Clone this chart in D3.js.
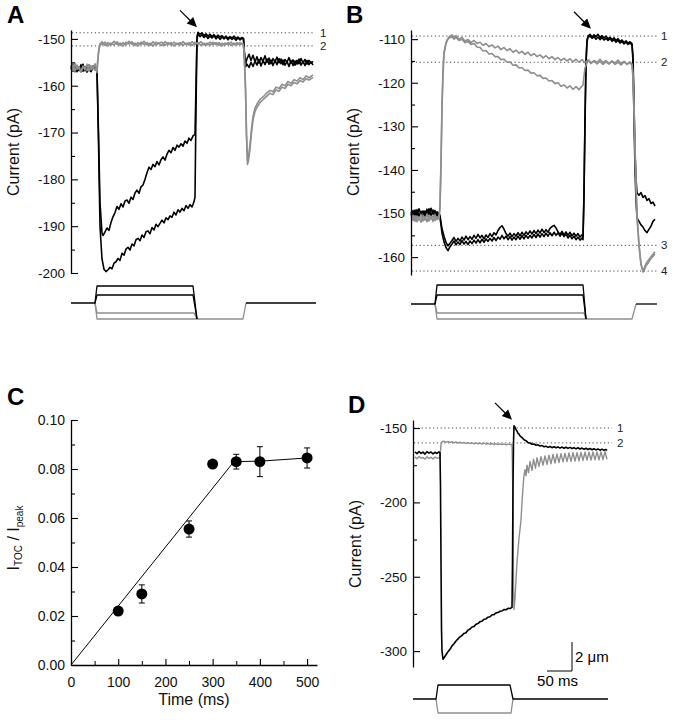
<!DOCTYPE html>
<html>
<head>
<meta charset="utf-8">
<script src="https://cdn.jsdelivr.net/npm/d3@7"></script>
<style>
  body { margin: 0; background: #fff; }
  svg { display: block; font-family: "Liberation Sans", Arial, Helvetica, sans-serif; }
</style>
</head>
<body>
<div id="fig"></div>
<script>
// ---------- Panel A : current traces [time ms, pA] ----------
var aBlack1 = [[0,-156.5],[4,-155.4],[8,-157.0],[12,-155.9],[16,-156.8],[20,-155.5],[24,-156.9],[28,-156.0],[32,-157.1],[36,-155.6],[40,-156.7],[44,-155.8],[48,-156.4],[52,-156.9],
  [55,-170],[58,-185],[62,-191.5],
  [64,-192.0],[68,-191.2],[72,-190.4],[76,-190.9],[80,-189.2],[84,-188.0],[88,-187.1],[92,-185.8],[96,-186.4],[100,-185.2],[104,-185.9],[108,-184.6],[112,-184.4],[116,-185.1],[120,-183.8],[124,-184.3],[128,-182.9],[132,-182.3],[136,-183.0],[140,-181.6],[144,-181.2],[148,-180.0],[152,-178.6],[156,-177.4],[160,-177.9],[164,-176.8],[168,-177.3],[172,-176.2],[176,-176.9],[180,-175.8],[184,-175.2],[188,-175.9],[192,-174.6],[196,-173.8],[200,-174.3],[204,-173.2],[208,-173.8],[212,-172.7],[216,-173.1],[220,-172.4],[224,-172.9],[228,-171.8],[232,-172.3],[236,-171.2],[240,-171.7],[244,-170.7],[248,-170.4],
  [250,-160],[252,-149.5],[254,-148.6],
  [258,-149.0],[262,-148.7],[266,-149.3],[270,-148.9],[274,-149.4],[278,-149.0],[282,-149.5],[286,-149.1],[290,-149.6],[294,-149.2],[298,-149.6],[302,-149.3],[306,-149.8],[310,-149.4],[314,-149.9],[318,-149.5],[322,-149.8],[326,-149.4],[330,-149.9],[334,-149.6],[338,-150.0],[342,-149.7],[345,-149.9],
  [347,-153],[349,-155.5],
  [352,-154.2],[356,-153.3],[360,-154.6],[364,-153.5],[368,-154.9],[372,-153.8],[376,-155.2],[380,-154.0],[384,-154.8],[388,-153.6],[392,-155.0],[396,-154.1],[400,-155.3],[404,-154.2],[408,-154.9],[412,-153.9],[416,-155.1],[420,-154.3],[424,-155.5],[428,-154.4],[432,-155.0],[436,-154.0],[440,-155.2],[444,-154.5],[448,-155.6],[452,-154.6],[456,-155.3],[460,-154.2],[464,-155.1],[468,-154.4],[472,-155.4],[476,-154.6],[480,-155.2],[484,-154.8]];

var aBlack2 = [[0,-155.8],[4,-156.9],[8,-155.6],[12,-157.0],[16,-156.0],[20,-156.6],[24,-155.4],[28,-156.8],[32,-155.9],[36,-156.5],[40,-157.0],[44,-156.1],[48,-155.7],[52,-156.6],
  [55,-172],[58,-190],[62,-197],
  [66,-199.2],[70,-199.7],[74,-199.3],[78,-198.8],[82,-199.1],[86,-197.9],[90,-197.6],[94,-196.9],[98,-197.3],[102,-195.8],[106,-196.2],[110,-194.9],[114,-194.5],[118,-195.1],[122,-193.8],[126,-194.2],[130,-192.9],[134,-192.6],[138,-193.1],[142,-191.9],[146,-192.4],[150,-191.2],[154,-191.0],[158,-191.6],[162,-190.3],[166,-190.8],[170,-189.6],[174,-190.1],[178,-189.4],[182,-188.7],[186,-189.3],[190,-188.2],[194,-188.6],[198,-187.8],[202,-188.1],[206,-187.0],[210,-187.6],[214,-186.5],[218,-187.0],[222,-186.2],[226,-186.7],[230,-185.6],[234,-186.2],[238,-185.4],[242,-185.9],[246,-184.8],[248,-183.8],
  [250,-165],[252,-150],[254,-149.0],
  [258,-149.5],[262,-149.1],[266,-149.7],[270,-149.3],[274,-149.9],[278,-149.4],[282,-149.8],[286,-149.3],[290,-150.0],[294,-149.5],[298,-150.1],[302,-149.6],[306,-150.0],[310,-149.6],[314,-150.2],[318,-149.7],[322,-150.1],[326,-149.8],[330,-150.3],[334,-149.8],[338,-150.2],[342,-149.9],[345,-150.1],
  [347,-154],[349,-156],
  [352,-155.4],[356,-156.1],[360,-155.0],[364,-155.9],[368,-154.7],[372,-155.6],[376,-154.4],[380,-155.8],[384,-154.6],[388,-155.5],[392,-154.3],[396,-155.4],[400,-154.5],[404,-155.7],[408,-154.6],[412,-155.5],[416,-154.2],[420,-155.3],[424,-154.5],[428,-155.6],[432,-154.8],[436,-155.9],[440,-154.6],[444,-155.7],[448,-154.7],[452,-155.4],[456,-154.3],[460,-155.6],[464,-154.8],[468,-155.7],[472,-154.6],[476,-155.5],[480,-154.9],[484,-155.6]];

var aGray1 = [[0,-155.6],[4,-156.8],[8,-155.2],[12,-156.5],[16,-155.9],[20,-157.0],[24,-155.8],[28,-156.6],[32,-155.4],[36,-156.9],[40,-155.7],[44,-156.4],[48,-155.3],[52,-157.2],
  [55,-153],[58,-151.2],
  [62,-150.6],[68,-151.4],[74,-150.8],[80,-151.3],[86,-150.5],[92,-151.2],[98,-150.9],[104,-151.5],[110,-150.7],[116,-151.1],[122,-150.6],[128,-151.4],[134,-150.8],[140,-151.2],[146,-150.5],[152,-151.3],[158,-150.9],[164,-151.5],[170,-150.7],[176,-151.0],[182,-151.4],[188,-150.6],[194,-151.2],[200,-150.8],[206,-151.5],[212,-150.9],[218,-151.3],[224,-150.6],[230,-151.2],[236,-150.8],[242,-151.4],[248,-150.7],[254,-151.1],[260,-150.6],[266,-151.3],[272,-150.9],[278,-151.4],[284,-150.7],[290,-151.2],[296,-150.8],[302,-151.5],[308,-150.9],[314,-151.2],[320,-150.7],[326,-151.3],[332,-150.8],[338,-151.2],[344,-151.0],
  [346,-152],[349,-160],[351,-170],[353,-176.8],[355,-176],[358,-173.5],[361,-170],[364,-167.3],[368,-165.5],[372,-164.6],[378,-163.6],[384,-163],[390,-162.4],[398,-161.6],[404,-161.9],[410,-160.9],[416,-161.2],[422,-160.3],[428,-160.6],[434,-159.7],[440,-160.0],[446,-159.3],[452,-159.6],[458,-158.9],[464,-159.2],[470,-158.5],[476,-158.8],[484,-158.2]];

var aGray2 = [[0,-156.3],[4,-155.5],[8,-156.9],[12,-155.6],[16,-156.4],[20,-157.1],[24,-155.9],[28,-156.2],[32,-156.8],[36,-155.5],[40,-156.6],[44,-155.9],[48,-156.7],[52,-156.1],
  [55,-152.8],[58,-151.0],
  [62,-151.2],[68,-150.7],[74,-151.5],[80,-150.9],[86,-151.3],[92,-150.6],[98,-151.4],[104,-150.8],[110,-151.3],[116,-150.5],[122,-151.2],[128,-150.9],[134,-151.5],[140,-150.7],[146,-151.2],[152,-150.8],[158,-151.4],[164,-150.6],[170,-151.3],[176,-150.9],[182,-150.7],[188,-151.4],[194,-150.8],[200,-151.3],[206,-150.7],[212,-151.2],[218,-150.8],[224,-151.4],[230,-150.9],[236,-151.3],[242,-150.6],[248,-151.2],[254,-150.8],[260,-151.4],[266,-150.9],[272,-151.3],[278,-150.7],[284,-151.2],[290,-150.8],[296,-151.4],[302,-150.9],[308,-151.3],[314,-150.8],[320,-151.4],[326,-150.9],[332,-151.3],[338,-150.8],[344,-151.2],
  [346,-152.5],[349,-161],[351,-171],[353,-176.0],[355,-175.2],[358,-172.6],[361,-169.2],[364,-166.6],[368,-164.8],[372,-163.9],[378,-162.9],[384,-162.4],[390,-161.7],[398,-161.0],[404,-161.3],[410,-160.3],[416,-160.6],[422,-159.7],[428,-160.0],[434,-159.1],[440,-159.5],[446,-158.7],[452,-159.0],[458,-158.3],[464,-158.7],[470,-157.9],[476,-158.3],[484,-157.7]];

var aLevels = [-148.7, -151.5];
var aLevelLabels = ["1", "2"];
var aTicks = [-200, -190, -180, -170, -160, -150];
var aMinor = [-195, -185, -175, -165, -155];

// stimulus protocol A [time ms, step level]
var stimABlack1 = [[0,0],[48,0],[52,17],[244,17],[252,-16]];
var stimABlack2 = [[48,0],[52,8],[244,8],[252,-16]];
var stimAGray1 = [[48,0],[52,-10],[246,-10],[252,-16]];
var stimAGray2 = [[48,0],[52,-16],[344,-16],[350,0]];
var stimATail = [[350,0],[490,0]];

// ---------- Panel B ----------
var bBlack1 = [[0,-149.6],[4,-150.8],[8,-149.2],[12,-150.5],[16,-148.9],[20,-150.2],[24,-149.4],[28,-150.9],[32,-149.0],[36,-150.3],[40,-148.8],[44,-150.1],[48,-149.3],[52,-150.6],[56,-149.8],
  [58,-150.5],[60,-152],[62,-153.5],[66,-155.2],[70,-156.6],[74,-157.4],[78,-156.8],
  [82,-156.2],[86,-155.5],[90,-156.4],[94,-155.7],[98,-156.3],[102,-155.4],[106,-156.1],[110,-155.2],[114,-156.0],[118,-155.3],[122,-155.9],[126,-155.0],[130,-155.7],[134,-154.8],[138,-155.6],[142,-155.0],[146,-155.8],[150,-154.9],[154,-155.5],[158,-154.6],[162,-155.3],[166,-154.4],[170,-154.9],[174,-153.9],[178,-153.2],[182,-152.8],[186,-153.6],[190,-154.6],[194,-155.2],[198,-154.5],[202,-155.3],[206,-154.6],[210,-155.2],[214,-154.4],[218,-155.1],[222,-154.3],[226,-155.0],[230,-154.2],[234,-154.8],[238,-154.0],[242,-154.7],[246,-153.9],[250,-154.6],[254,-153.8],[258,-154.5],[262,-153.6],[266,-154.4],[270,-153.7],[274,-154.3],[278,-153.4],[282,-153.0],[286,-152.7],[290,-153.3],[294,-154.2],[298,-154.8],[302,-154.1],[306,-154.9],[310,-154.2],[314,-155.0],[318,-154.3],[322,-155.1],[326,-154.5],[330,-155.2],[334,-154.6],[338,-155.4],[342,-154.9],[344,-155.3],
  [346,-145],[348,-128],[350,-115],[352,-110.2],[354,-109.3],
  [358,-108.9],[362,-109.5],[366,-109.0],[370,-109.4],[374,-108.9],[378,-109.6],[382,-109.2],[386,-109.7],[390,-109.3],[394,-109.9],[398,-109.6],[402,-110.1],[406,-109.7],[410,-110.3],[414,-109.9],[418,-110.5],[422,-110.2],[426,-110.8],[430,-110.4],[434,-110.9],[438,-110.6],[442,-111.0],
  [444,-114],[446,-125],[448,-136],[450,-142],[452,-145.3],[456,-145.8],[460,-145.2],[464,-146.3],[468,-145.9],[472,-147.0],[476,-146.6],[480,-147.7],[484,-147.4],[488,-148.3]];

var bBlack2 = [[0,-150.4],[4,-149.3],[8,-150.7],[12,-149.1],[16,-150.6],[20,-149.5],[24,-150.9],[28,-149.4],[32,-150.3],[36,-148.9],[40,-150.5],[44,-149.2],[48,-150.8],[52,-149.6],[56,-150.2],
  [58,-151],[60,-152.6],[62,-154.5],[66,-156.5],[70,-157.8],[74,-158.5],[78,-157.6],
  [82,-157.0],[86,-156.3],[90,-157.2],[94,-156.5],[98,-157.1],[102,-156.2],[106,-157.0],[110,-156.4],[114,-157.1],[118,-156.3],[122,-156.9],[126,-156.1],[130,-156.8],[134,-156.0],[138,-156.7],[142,-155.9],[146,-156.6],[150,-155.8],[154,-156.4],[158,-155.7],[162,-156.3],[166,-155.5],[170,-156.2],[174,-155.4],[178,-155.9],[182,-155.0],[186,-155.8],[190,-155.2],[194,-156.0],[198,-155.3],[202,-156.1],[206,-155.4],[210,-156.0],[214,-155.2],[218,-155.9],[222,-155.1],[226,-155.8],[230,-155.0],[234,-155.7],[238,-155.0],[242,-155.6],[246,-154.8],[250,-155.5],[254,-154.7],[258,-155.4],[262,-154.6],[266,-155.3],[270,-154.5],[274,-155.2],[278,-154.4],[282,-155.1],[286,-154.3],[290,-155.0],[294,-154.4],[298,-155.2],[302,-154.5],[306,-155.3],[310,-154.7],[314,-155.6],[318,-155.0],[322,-155.8],[326,-155.2],[330,-156.0],[334,-155.4],[338,-156.1],[342,-155.6],[344,-156.0],
  [346,-146],[348,-129],[350,-116],[352,-110.6],[354,-109.6],
  [358,-109.3],[362,-109.8],[366,-109.4],[370,-110.0],[374,-109.5],[378,-110.1],[382,-109.6],[386,-110.2],[390,-109.8],[394,-110.3],[398,-109.9],[402,-110.5],[406,-110.1],[410,-110.7],[414,-110.3],[418,-110.9],[422,-110.5],[426,-111.1],[430,-110.7],[434,-111.2],[438,-110.9],[442,-111.3],
  [444,-115],[446,-128],[448,-140],[450,-147],[452,-151.0],[456,-151.8],[460,-152.6],[464,-153.1],[468,-153.9],[472,-154.4],[476,-153.6],[480,-152.9],[484,-151.8],[488,-151.3]];

var bGray1 = [[0,-150.2],[4,-151.6],[8,-150.5],[12,-151.9],[16,-150.8],[20,-152.0],[24,-150.4],[28,-151.5],[32,-150.1],[36,-151.7],[40,-150.6],[44,-151.8],[48,-150.3],[52,-151.4],[56,-150.9],
  [58,-148],[60,-138],[62,-125],[64,-117],[66,-113],[70,-110.8],[74,-109.8],[78,-109.3],
  [82,-109.0],[86,-109.7],[90,-109.2],[96,-110.0],[102,-109.6],[108,-110.4],[114,-110.1],[120,-110.8],[126,-110.3],[132,-111.0],[138,-110.7],[144,-111.4],[150,-111.0],[156,-111.7],[162,-111.3],[168,-112.0],[174,-111.6],[180,-112.4],[186,-111.9],[192,-112.6],[198,-112.2],[204,-113.0],[210,-112.5],[216,-113.2],[222,-112.8],[228,-113.5],[234,-113.0],[240,-113.8],[246,-113.3],[252,-114.0],[258,-113.6],[264,-114.3],[270,-113.8],[276,-114.5],[282,-114.0],[288,-114.7],[294,-114.2],[300,-114.9],[306,-114.4],[312,-115.0],[318,-114.5],[324,-115.2],[330,-114.6],[336,-115.3],[342,-114.7],[348,-115.4],[354,-114.8],[360,-115.5],[366,-114.9],[372,-115.3],[378,-114.6],[384,-115.4],[390,-114.9],[396,-115.6],[402,-115.0],[408,-115.5],[414,-114.8],[420,-115.6],[426,-115.1],[432,-115.8],[438,-115.2],[442,-115.7],
  [444,-118],[446,-125],[448,-134],[450,-143],[452,-150],[456,-157],[460,-161.5],[464,-163.4],[467,-162.9],[470,-162.0],[474,-161.4],[478,-160.6],[482,-160.1],[488,-159.3]];

var bGray2 = [[0,-151.0],[4,-150.3],[8,-151.8],[12,-150.6],[16,-151.5],[20,-150.2],[24,-151.7],[28,-150.7],[32,-151.9],[36,-150.4],[40,-151.3],[44,-150.5],[48,-151.6],[52,-150.8],[56,-151.2],
  [58,-148.5],[60,-139],[62,-126],[64,-118],[66,-113.5],[70,-111],[74,-110],[78,-109.6],
  [82,-109.4],[86,-110.0],[90,-109.6],[96,-110.3],[102,-110.0],[108,-110.8],[114,-110.5],[120,-111.2],[126,-111.0],[132,-111.8],[138,-111.9],[144,-112.7],[150,-112.6],[156,-113.4],[162,-113.3],[168,-114.0],[174,-114.0],[180,-114.7],[186,-114.6],[192,-115.3],[198,-115.2],[204,-116.0],[210,-115.9],[216,-116.6],[222,-116.5],[228,-117.2],[234,-117.1],[240,-117.8],[246,-117.7],[252,-118.4],[258,-118.3],[264,-119.0],[270,-118.9],[276,-119.6],[282,-119.5],[288,-120.2],[294,-120.0],[300,-120.8],[306,-120.5],[312,-121.2],[318,-120.7],[324,-121.5],[330,-120.9],[336,-121.6],[340,-121.0],[344,-120.5],[346,-118.5],[348,-116.6],[352,-115.4],[356,-114.8],[360,-115.6],[366,-115.0],[372,-115.7],[378,-115.1],[384,-115.8],[390,-115.2],[396,-115.7],[402,-115.1],[408,-115.8],[414,-115.3],[420,-115.9],[426,-115.2],[432,-115.7],[438,-115.4],[442,-116.0],
  [444,-119],[446,-127],[448,-136],[450,-144],[452,-151],[456,-157.5],[460,-161.8],[464,-163.0],[467,-162.4],[470,-161.5],[474,-160.8],[478,-160.2],[482,-159.6],[488,-158.8]];

var bLevels = [-109.3, -115.3, -157.3, -163.2];
var bLevelLabels = ["1", "2", "3", "4"];
var bTicks = [-160, -150, -140, -130, -120, -110];
var bMinor = [-155, -145, -135, -125, -115];

var stimBBlack1 = [[0,0],[48,0],[52,19],[344,19],[350,-15]];
var stimBBlack2 = [[48,0],[52,9],[344,9],[350,-15]];
var stimBGray1 = [[48,0],[52,-9],[346,-9],[350,-15]];
var stimBGray2 = [[48,0],[52,-15],[442,-15],[450,0]];
var stimBTail = [[450,0],[492,0]];

// ---------- Panel C : I_TOC / I_peak vs time ----------
var cTime = [100, 150, 250, 300, 350, 400, 500];
var cRatio = [0.022, 0.029, 0.0555, 0.082, 0.083, 0.083, 0.0845];
var cErr = [0.0015, 0.0037, 0.0033, 0.0012, 0.003, 0.0061, 0.0041];
var fitTime = [0, 345, 400, 500];
var fitRatio = [0, 0.083, 0.0832, 0.0845];
var cXTicks = [0, 100, 200, 300, 400, 500];
var cXMinor = [50, 150, 250, 350, 450];
var cYTicks = [0, 0.02, 0.04, 0.06, 0.08, 0.10];
var cYMinor = [0.01, 0.03, 0.05, 0.07, 0.09];

// ---------- Panel D ----------
var dBlack = [[4,-166.0],[8,-167.3],[12,-165.8],[16,-167.0],[20,-166.2],[24,-167.5],[28,-165.9],[32,-166.9],[36,-166.1],[40,-167.4],[44,-166.3],[48,-167.1],[52,-166.0],[54,-166.8],
  [55,-190],[56,-240],[57,-285],[58,-300],[60,-305.5],[62,-304.5],
  [66,-302.5],[70,-300.4],[74,-298.8],[78,-296.5],[82,-295.1],[86,-293.2],[90,-291.8],[94,-290.4],[98,-289.5],[102,-288.1],[106,-287.6],[110,-285.9],[114,-285.2],[118,-283.8],[122,-283.4],[126,-282.0],[130,-281.5],[134,-280.2],[138,-279.9],[142,-278.6],[146,-278.4],[150,-277.2],[154,-276.9],[158,-275.6],[162,-275.5],[166,-274.3],[170,-274.1],[174,-273.2],[178,-273.0],[182,-272.1],[186,-272.2],[190,-271.3],[194,-271.4],[198,-270.6],
  [199,-240],[200,-190],[201,-160],[202,-148.5],
  [204,-149.5],[206,-151.2],[208,-152.0],[210,-153.6],[212,-154.1],[214,-155.3],[218,-156.4],[222,-157.9],[226,-158.5],[230,-159.8],[234,-160.1],[238,-160.9],[242,-160.7],[246,-161.6],[250,-161.3],[254,-162.1],[258,-161.8],[262,-162.6],[266,-162.2],[270,-163.0],[274,-162.4],[278,-163.2],[282,-162.6],[286,-163.3],[290,-162.7],[294,-163.5],[298,-162.8],[302,-163.6],[306,-162.9],[310,-163.7],[314,-163.0],[318,-163.8],[322,-163.2],[326,-164.0],[330,-163.3],[334,-164.1],[338,-163.5],[342,-164.3],[346,-163.6],[350,-164.4],[354,-163.8],[358,-164.6],[362,-163.9],[366,-164.7],[370,-164.1],[374,-164.9],[378,-164.2],[382,-165.0],[386,-164.4],[388,-165.1]];

var dGray = [[4,-169.4],[8,-170.6],[12,-169.1],[16,-170.3],[20,-169.8],[24,-170.9],[28,-169.3],[32,-170.5],[36,-169.6],[40,-170.8],[44,-169.5],[48,-170.4],[52,-169.9],[54,-170.2],
  [55,-166],[56,-161],[58,-159.2],
  [62,-158.8],[66,-159.6],[70,-159.0],[74,-159.8],[78,-159.2],[82,-160.0],[86,-159.3],[90,-160.1],[94,-159.5],[98,-160.2],[102,-159.6],[106,-160.4],[110,-159.8],[114,-160.5],[118,-159.9],[122,-160.6],[126,-160.0],[130,-160.7],[134,-160.1],[138,-160.8],[142,-160.2],[146,-160.9],[150,-160.3],[154,-161.0],[158,-160.4],[162,-161.1],[166,-160.5],[170,-161.2],[174,-160.6],[178,-161.2],[182,-160.7],[186,-161.3],[190,-160.8],[194,-161.2],[198,-160.9],
  [200,-200],[201,-255],[202,-272],[204,-265],[206,-252],[208,-240],[212,-224],[216,-212],[218,-200],[220,-190],[222,-182],[224,-178],[226,-182],[228,-175],[231,-180],[234,-172.5],[238,-178.5],[241,-171],[245,-177],[248,-170],[252,-175.8],[256,-169.3],[260,-175],[264,-168.8],[268,-174.5],[272,-168.2],[276,-174],[280,-167.8],[284,-173.5],[288,-167.5],[292,-173.2],[296,-167.2],[300,-172.8],[304,-167.0],[308,-172.6],[312,-166.8],[316,-172.4],[320,-166.6],[324,-172.2],[328,-166.5],[332,-172.0],[336,-166.4],[340,-171.8],[344,-166.3],[348,-171.6],[352,-166.2],[356,-171.5],[360,-166.1],[364,-171.4],[368,-166.0],[372,-171.3],[376,-166.0],[380,-171.2],[384,-165.9],[388,-171.0]];

var dLevels = [-150, -160];
var dLevelLabels = ["1", "2"];
var dTicks = [-300, -250, -200, -150];
var dMinor = [-275, -225, -175];

var stimDBlack = [[0,0],[46,0],[50,14],[194,14],[200,0],[390,0]];
var stimDGray = [[46,0],[50,-14],[196,-14],[200,0]];

// ---------- drawing ----------
var svg = d3.select('#fig').append('svg')
  .attr('width', 678)
  .attr('height', 720);
svg.append('rect').attr('width', 678).attr('height', 720).attr('fill', '#fff');

var GRAY = '#8e8e8e';
var TW = 1.6; // trace width

function drawTrace(data, x, y, color, w) {
  svg.append('path')
    .datum(data)
    .attr('d', d3.line().x(d => x(d[0])).y(d => y(d[1])))
    .attr('fill', 'none')
    .attr('stroke', color)
    .attr('stroke-width', w)
    .attr('stroke-linejoin', 'round');
}

function styleAxis(g, size) {
  g.attr('font-family', null).attr('font-size', size);
  g.select('.domain').attr('stroke-width', 1.3);
  g.selectAll('.tick line').attr('stroke-width', 1.1);
  g.selectAll('.tick text').attr('fill', '#111');
}

function leftAxis(y, x0, major, minor, fmt, size) {
  var g = svg.append('g').attr('transform', `translate(${x0},0)`);
  g.call(d3.axisLeft(y).tickValues(major).tickSize(-7).tickSizeOuter(0).tickPadding(6).tickFormat(fmt));
  styleAxis(g, size);
  var m = svg.append('g').attr('transform', `translate(${x0},0)`);
  m.call(d3.axisLeft(y).tickValues(minor).tickSize(-4).tickSizeOuter(0).tickFormat(''));
  m.select('.domain').remove();
  m.selectAll('.tick line').attr('stroke-width', 1.1);
}

function dottedLevels(levels, labels, y, x1, x2, lx) {
  levels.forEach(function(v, i) {
    svg.append('line')
      .attr('x1', x1).attr('x2', x2)
      .attr('y1', y(v)).attr('y2', y(v))
      .attr('stroke', '#444')
      .attr('stroke-width', 1)
      .attr('stroke-dasharray', '1.2,2.6');
    svg.append('text')
      .attr('x', lx).attr('y', y(v) + 4)
      .attr('font-size', 11.5)
      .attr('fill', '#222')
      .text(labels[i]);
  });
}

function yTitle(x, y, txt) {
  svg.append('text')
    .attr('transform', `translate(${x},${y}) rotate(-90)`)
    .attr('text-anchor', 'middle')
    .attr('font-size', 16)
    .attr('fill', '#111')
    .text(txt);
}

function panelLetter(x, y, txt) {
  svg.append('text')
    .attr('x', x).attr('y', y)
    .attr('font-size', 24)
    .attr('font-weight', 'bold')
    .text(txt);
}

function arrow(tx, ty) {
  var u = Math.SQRT1_2, L = 10, W = 4.6;
  var bx = tx - u * L, by = ty - u * L;
  svg.append('line')
    .attr('x1', tx - 17).attr('y1', ty - 17)
    .attr('x2', bx + 1).attr('y2', by + 1)
    .attr('stroke', '#000').attr('stroke-width', 1.2);
  svg.append('path')
    .attr('d', `M${tx},${ty}L${bx - u * W},${by + u * W}L${bx + u * W},${by - u * W}Z`)
    .attr('fill', '#000');
}

var fmtInt = d => String(d);

// Panel A
var xA = d3.scaleLinear().domain([0, 484]).range([71, 313]);
var yA = d3.scaleLinear().domain([-200, -148.1]).range([273, 30]);
var sA = d3.scaleLinear().domain([-20, 20]).range([323, 283]);

dottedLevels(aLevels, aLevelLabels, yA, 72, 314, 320);
drawTrace(aBlack2, xA, yA, '#000', TW);
drawTrace(aBlack1, xA, yA, '#000', TW);
drawTrace(aGray2, xA, yA, GRAY, TW);
drawTrace(aGray1, xA, yA, GRAY, TW);
leftAxis(yA, 71, aTicks, aMinor, fmtInt, 13.5);
yTitle(19, 152, 'Current (pA)');
panelLetter(7, 23, 'A');
arrow(xA(252), yA(-148.6) - 5);

drawTrace(stimAGray2, xA, sA, GRAY, 1.3);
drawTrace(stimAGray1, xA, sA, GRAY, 1.3);
drawTrace(stimABlack2, xA, sA, '#000', 1.3);
drawTrace(stimABlack1, xA, sA, '#000', 1.3);
drawTrace(stimATail, xA, sA, '#000', 1.3);

// Panel B
var xB = d3.scaleLinear().domain([0, 488]).range([411, 655]);
var yB = d3.scaleLinear().domain([-164.1, -107.9]).range([275, 30]);
var sB = d3.scaleLinear().domain([-20, 20]).range([324, 284]);

dottedLevels(bLevels, bLevelLabels, yB, 412, 657, 661);
drawTrace(bBlack2, xB, yB, '#000', TW);
drawTrace(bBlack1, xB, yB, '#000', TW);
drawTrace(bGray2, xB, yB, GRAY, TW);
drawTrace(bGray1, xB, yB, GRAY, TW);
leftAxis(yB, 411, bTicks, bMinor, fmtInt, 13.5);
yTitle(359, 152, 'Current (pA)');
panelLetter(346, 23, 'B');
arrow(xB(360), yB(-109) - 6);

drawTrace(stimBGray2, xB, sB, GRAY, 1.3);
drawTrace(stimBGray1, xB, sB, GRAY, 1.3);
drawTrace(stimBBlack2, xB, sB, '#000', 1.3);
drawTrace(stimBBlack1, xB, sB, '#000', 1.3);
drawTrace(stimBTail, xB, sB, '#000', 1.3);

// Panel C
var xC = d3.scaleLinear().domain([0, 521]).range([71, 317]);
var yC = d3.scaleLinear().domain([0, 0.1]).range([665, 420]);

var gx = svg.append('g').attr('transform', 'translate(0,665)');
gx.call(d3.axisBottom(xC).tickValues(cXTicks).tickSize(-6).tickSizeOuter(0).tickPadding(12));
styleAxis(gx, 14);
var gxm = svg.append('g').attr('transform', 'translate(0,665)');
gxm.call(d3.axisBottom(xC).tickValues(cXMinor).tickSize(-4).tickSizeOuter(0).tickFormat(''));
gxm.select('.domain').remove();
leftAxis(yC, 71, cYTicks, cYMinor, d3.format('.2f'), 14);

svg.append('path')
  .datum(fitTime.map((t, i) => [t, fitRatio[i]]))
  .attr('d', d3.line().x(d => xC(d[0])).y(d => yC(d[1])))
  .attr('fill', 'none')
  .attr('stroke', '#000')
  .attr('stroke-width', 1);

var pts = cTime.map((t, i) => ({t: t, v: cRatio[i], e: cErr[i]}));
var eb = svg.append('g').selectAll('g').data(pts).enter().append('g');
eb.append('line')
  .attr('x1', d => xC(d.t)).attr('x2', d => xC(d.t))
  .attr('y1', d => yC(d.v - d.e)).attr('y2', d => yC(d.v + d.e))
  .attr('stroke', '#000').attr('stroke-width', 1);
eb.append('line')
  .attr('x1', d => xC(d.t) - 3).attr('x2', d => xC(d.t) + 3)
  .attr('y1', d => yC(d.v + d.e)).attr('y2', d => yC(d.v + d.e))
  .attr('stroke', '#000').attr('stroke-width', 1);
eb.append('line')
  .attr('x1', d => xC(d.t) - 3).attr('x2', d => xC(d.t) + 3)
  .attr('y1', d => yC(d.v - d.e)).attr('y2', d => yC(d.v - d.e))
  .attr('stroke', '#000').attr('stroke-width', 1);
eb.append('circle')
  .attr('cx', d => xC(d.t)).attr('cy', d => yC(d.v))
  .attr('r', 5.5).attr('fill', '#000');

svg.append('text')
  .attr('x', 194).attr('y', 705)
  .attr('text-anchor', 'middle')
  .attr('font-size', 16)
  .attr('fill', '#111')
  .text('Time (ms)');

var yl = svg.append('text')
  .attr('transform', 'translate(19,538) rotate(-90)')
  .attr('text-anchor', 'middle')
  .attr('font-size', 16)
  .attr('fill', '#111');
yl.append('tspan').text('I');
yl.append('tspan').attr('font-size', 10).attr('dy', 3).text('TOC');
yl.append('tspan').attr('dy', -3).text(' / I');
yl.append('tspan').attr('font-size', 10).attr('dy', 4).text('peak');
panelLetter(7, 405, 'C');

// Panel D
var xD = d3.scaleLinear().domain([0, 390]).range([413, 608]);
var yD = d3.scaleLinear().domain([-310.7, -144.6]).range([667, 420]);
var sD = d3.scaleLinear().domain([-20, 20]).range([719, 679]);

dottedLevels(dLevels, dLevelLabels, yD, 414, 612, 617);
drawTrace(dGray, xD, yD, GRAY, 1.4);
drawTrace(dBlack, xD, yD, '#000', TW);
leftAxis(yD, 413, dTicks, dMinor, fmtInt, 13.5);
yTitle(361, 544, 'Current (pA)');
panelLetter(348, 413, 'D');
arrow(xD(198), yD(-148.5) - 6);

drawTrace(stimDGray, xD, sD, GRAY, 1.3);
drawTrace(stimDBlack, xD, sD, '#000', 1.3);

// scale bar (50 ms horizontal)
var sbX1 = xD(268), sbX2 = xD(318), sbY = 671;
svg.append('path')
  .attr('d', `M${sbX1},${sbY}H${sbX2}V${sbY - 29}`)
  .attr('fill', 'none')
  .attr('stroke', '#000')
  .attr('stroke-width', 1);
svg.append('text')
  .attr('x', sbX2 + 3).attr('y', 662)
  .attr('font-size', 15)
  .text('2 \u03bcm');
svg.append('text')
  .attr('x', (sbX1 + sbX2) / 2 - 2).attr('y', 686)
  .attr('text-anchor', 'middle')
  .attr('font-size', 15)
  .text('50 ms');
</script>
</body>
</html>
